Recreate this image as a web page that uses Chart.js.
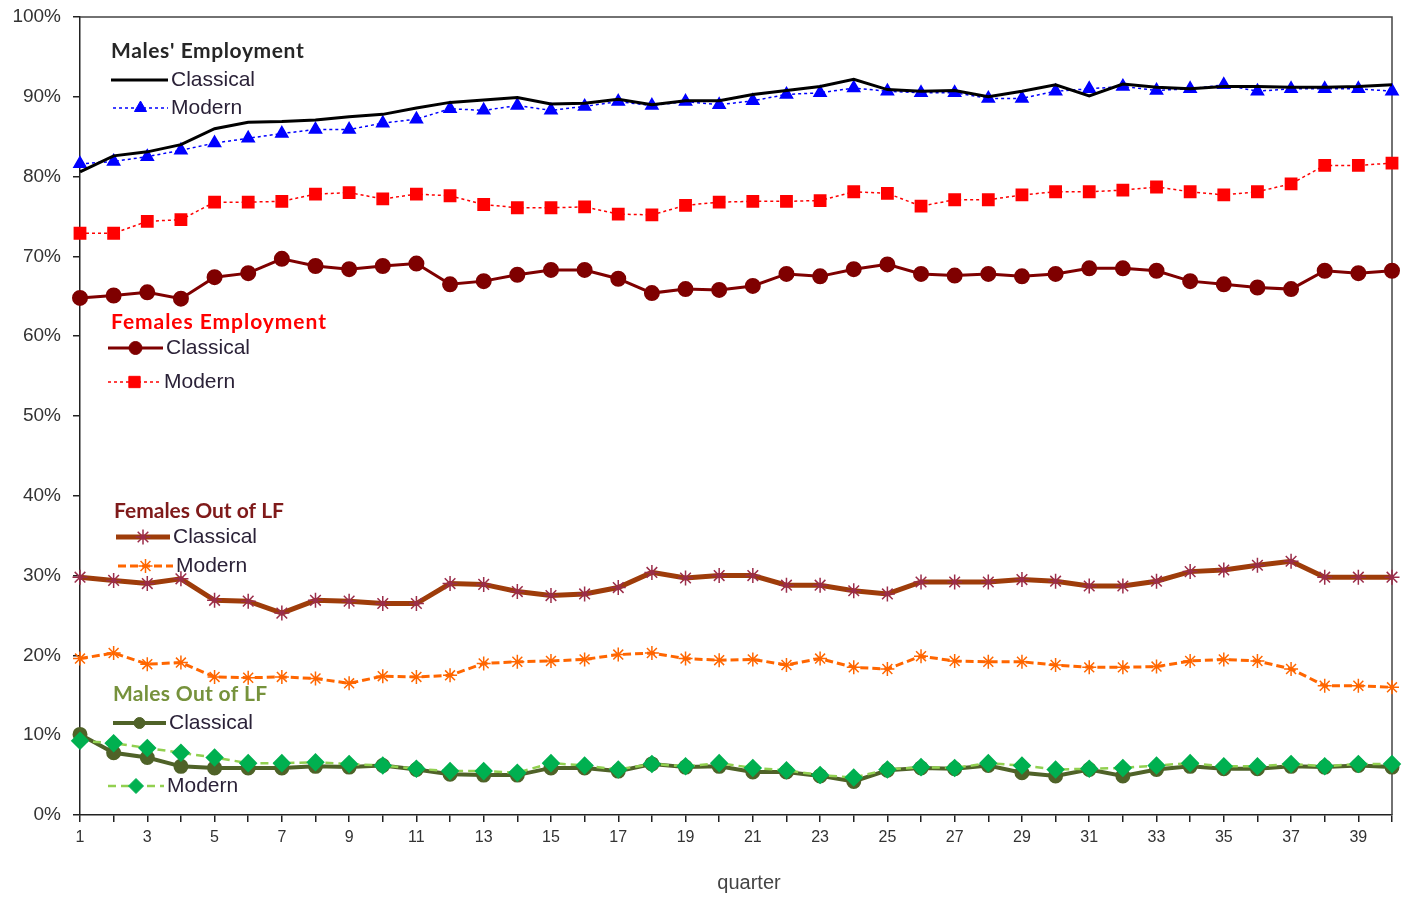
<!DOCTYPE html>
<html>
<head>
<meta charset="utf-8">
<script src="https://cdn.jsdelivr.net/npm/chart.js@4/dist/chart.umd.min.js"></script>
<style>
  html, body { margin: 0; padding: 0; background: #fff; }
  #wrap { width: 1405px; height: 900px; }
</style>
</head>
<body>
<div id="wrap"><canvas id="chart" width="1405" height="900"></canvas></div>
<script>
// quarters 1..40
const quarters = Array.from({ length: 40 }, (_, i) => String(i + 1));

const malesEmpClassical = [80.6, 82.6, 83.1, 84.0, 86.0, 86.8, 86.9, 87.1, 87.5, 87.8, 88.6, 89.3, 89.6, 89.9, 89.1, 89.2, 89.7, 89.0, 89.5, 89.5,
  90.3, 90.8, 91.3, 92.2, 90.9, 90.7, 90.8, 90.0, 90.7, 91.5, 90.1, 91.6, 91.2, 91.0, 91.3, 91.3, 91.2, 91.2, 91.3, 91.5];
const malesEmpModern = [81.6, 81.9, 82.5, 83.3, 84.2, 84.8, 85.4, 85.9, 85.9, 86.7, 87.2, 88.5, 88.3, 88.9, 88.3, 88.8, 89.4, 88.9, 89.4, 89.0,
  89.5, 90.3, 90.5, 91.1, 90.7, 90.5, 90.5, 89.8, 89.8, 90.7, 91.0, 91.3, 90.8, 91.0, 91.5, 90.7, 91.0, 91.0, 91.0, 90.7];
const femEmpClassical = [64.8, 65.1, 65.5, 64.7, 67.4, 67.9, 69.7, 68.8, 68.4, 68.8, 69.1, 66.5, 66.9, 67.7, 68.3, 68.3, 67.2, 65.4, 65.9, 65.8,
  66.3, 67.8, 67.5, 68.4, 69.0, 67.8, 67.6, 67.8, 67.5, 67.8, 68.5, 68.5, 68.2, 66.9, 66.5, 66.1, 65.9, 68.2, 67.9, 68.2];
const femEmpModern = [72.9, 72.9, 74.4, 74.6, 76.8, 76.8, 76.9, 77.8, 78.0, 77.2, 77.8, 77.6, 76.5, 76.1, 76.1, 76.2, 75.3, 75.2, 76.4, 76.8,
  76.9, 76.9, 77.0, 78.1, 77.9, 76.3, 77.1, 77.1, 77.7, 78.1, 78.1, 78.3, 78.7, 78.1, 77.7, 78.1, 79.1, 81.4, 81.4, 81.7];
const femOlfClassical = [29.8, 29.4, 29.0, 29.6, 26.9, 26.8, 25.3, 26.9, 26.8, 26.5, 26.5, 29.0, 28.9, 28.0, 27.5, 27.7, 28.5, 30.4, 29.7, 30.0,
  30.0, 28.8, 28.8, 28.1, 27.7, 29.2, 29.2, 29.2, 29.5, 29.3, 28.7, 28.7, 29.3, 30.5, 30.7, 31.3, 31.8, 29.8, 29.8, 29.8];
const femOlfModern = [19.6, 20.3, 18.9, 19.1, 17.3, 17.2, 17.3, 17.1, 16.5, 17.4, 17.3, 17.5, 19.0, 19.2, 19.3, 19.5, 20.1, 20.3, 19.6, 19.4,
  19.5, 18.8, 19.6, 18.5, 18.3, 19.9, 19.3, 19.2, 19.2, 18.8, 18.5, 18.5, 18.6, 19.3, 19.5, 19.3, 18.3, 16.2, 16.2, 16.0];
const malesOlfClassical = [10.1, 7.8, 7.2, 6.1, 5.9, 5.9, 5.9, 6.1, 6.0, 6.2, 5.7, 5.1, 5.0, 5.0, 5.9, 5.9, 5.5, 6.4, 6.0, 6.1,
  5.4, 5.4, 4.9, 4.2, 5.6, 5.9, 5.8, 6.2, 5.3, 4.9, 5.7, 4.9, 5.7, 6.1, 5.8, 5.8, 6.1, 6.0, 6.2, 6.0];
const malesOlfModern = [9.3, 9.0, 8.4, 7.8, 7.2, 6.5, 6.5, 6.6, 6.4, 6.2, 5.8, 5.5, 5.5, 5.3, 6.5, 6.2, 5.7, 6.4, 6.1, 6.5,
  5.9, 5.6, 5.0, 4.7, 5.7, 6.0, 5.9, 6.5, 6.2, 5.7, 5.8, 5.9, 6.2, 6.5, 6.1, 6.1, 6.4, 6.1, 6.4, 6.4];

const groupTitles = ["Males' Employment", 'Females Employment', 'Females Out of LF', 'Males Out of LF'];
const seriesNames = ['Classical', 'Modern'];
const xTitle = 'quarter';

const datasets = [
  { data: malesEmpClassical, borderColor: '#000000', borderWidth: 3, pointRadius: 0, order: 1 },
  { data: malesEmpModern, borderColor: '#0000FF', borderWidth: 1.5, borderDash: [3, 3],
    pointStyle: 'triangle', pointRadius: 7, pointBackgroundColor: '#0000FF', pointBorderColor: '#0000FF', order: 2 },
  { data: femEmpClassical, borderColor: '#7F0000', borderWidth: 3,
    pointStyle: 'circle', pointRadius: 6.5, pointBackgroundColor: '#7F0000', pointBorderColor: '#7F0000', order: 3 },
  { data: femEmpModern, borderColor: '#FF0000', borderWidth: 1.5, borderDash: [3, 3],
    pointStyle: 'rect', pointRadius: 8, pointBackgroundColor: '#FF0000', pointBorderColor: '#FF0000', order: 4 },
  { data: femOlfClassical, borderColor: '#9E3C0A', borderWidth: 5,
    pointStyle: 'star', pointRadius: 7.5, pointBorderWidth: 1.5, pointBorderColor: '#9B2D4A', order: 5 },
  { data: femOlfModern, borderColor: '#FF6600', borderWidth: 3, borderDash: [8, 4],
    pointStyle: 'star', pointRadius: 7, pointBorderWidth: 1.5, pointBorderColor: '#FF6600', order: 6 },
  { data: malesOlfClassical, borderColor: '#4F6228', borderWidth: 4,
    pointStyle: 'circle', pointRadius: 5.5, pointBackgroundColor: '#4F6228', pointBorderColor: '#4F6228', order: 8 },
  { data: malesOlfModern, borderColor: '#92D050', borderWidth: 2.5, borderDash: [8, 5],
    pointStyle: 'rectRot', pointRadius: 7.5, pointBackgroundColor: '#00B050', pointBorderColor: '#00B050', order: 7 }
];
datasets.forEach(d => { d.tension = 0; d.fill = false; });

// in-plot legend, drawn like the spreadsheet text boxes
const legendBoxes = [
  { title: groupTitles[0], color: '#262626', x: 111, y: 51, spacing: 0.6, items: [
    { ds: 0, x0: 111, x1: 168, y: 80 }, { ds: 1, x0: 113, x1: 168, y: 108 } ] },
  { title: groupTitles[1], color: '#FF0000', x: 111, y: 322, spacing: 0.95, items: [
    { ds: 2, x0: 108, x1: 163, y: 348 }, { ds: 3, x0: 108, x1: 161, y: 382 } ] },
  { title: groupTitles[2], color: '#7F1A1A', x: 114, y: 511, spacing: 0, items: [
    { ds: 4, x0: 116, x1: 170, y: 537 }, { ds: 5, x0: 118, x1: 173, y: 566 } ] },
  { title: groupTitles[3], color: '#76923C', x: 113, y: 694, spacing: 0.3, items: [
    { ds: 6, x0: 113, x1: 166, y: 723 }, { ds: 7, x0: 108, x1: 164, y: 786 } ] }
];

const inlineLegend = {
  id: 'inlineLegend',
  afterDatasetsDraw(chart) {
    const ctx = chart.ctx;
    ctx.save();
    legendBoxes.forEach(box => {
      ctx.font = 'bold 21px Lato, "Open Sans", sans-serif';
      ctx.fillStyle = box.color;
      ctx.textBaseline = 'middle';
      ctx.textAlign = 'left';
      ctx.letterSpacing = box.spacing + 'px';
      ctx.fillText(box.title, box.x, box.y);
      ctx.letterSpacing = '0px';
      box.items.forEach((it, k) => {
        const d = chart.data.datasets[it.ds];
        ctx.save();
        ctx.strokeStyle = d.borderColor;
        ctx.lineWidth = d.borderWidth;
        ctx.setLineDash(d.borderDash || []);
        ctx.beginPath();
        ctx.moveTo(it.x0, it.y);
        ctx.lineTo(it.x1, it.y);
        ctx.stroke();
        ctx.setLineDash([]);
        if (d.pointRadius) {
          ctx.fillStyle = d.pointBackgroundColor || d.pointBorderColor;
          ctx.strokeStyle = d.pointBorderColor;
          ctx.lineWidth = d.pointBorderWidth || 1;
          Chart.helpers.drawPoint(ctx, {
            pointStyle: d.pointStyle, radius: d.pointRadius, rotation: 0,
            borderWidth: d.pointBorderWidth || 1
          }, (it.x0 + it.x1) / 2, it.y);
        }
        ctx.restore();
        ctx.font = '21px "Liberation Sans", Arial, sans-serif';
        ctx.fillStyle = '#2B2238';
        ctx.fillText(seriesNames[k], it.x1 + 3, it.y);
      });
    });
    ctx.restore();
  }
};

// top and right frame of the plot area, plus the axis title a bit right of centre
const plotFrame = {
  id: 'plotFrame',
  beforeDatasetsDraw(chart) {
    const { ctx, chartArea: a } = chart;
    ctx.save();
    ctx.strokeStyle = '#444';
    ctx.lineWidth = 1.5;
    ctx.beginPath();
    ctx.moveTo(a.left, a.top);
    ctx.lineTo(a.right, a.top);
    ctx.lineTo(a.right, a.bottom);
    ctx.stroke();
    ctx.font = '20px "Liberation Sans", Arial, sans-serif';
    ctx.fillStyle = '#444';
    ctx.textAlign = 'center';
    ctx.textBaseline = 'middle';
    ctx.fillText(xTitle, (a.left + a.right) / 2 + 13, 883);
    ctx.restore();
  }
};

new Chart(document.getElementById('chart'), {
  type: 'line',
  data: { labels: quarters, datasets: datasets },
  options: {
    responsive: false,
    animation: false,
    layout: { padding: { left: 0, right: 13, top: 17, bottom: 0 } },
    plugins: { legend: { display: false }, tooltip: { enabled: false } },
    scales: {
      x: {
        type: 'category',
        offset: false,
        afterFit(scale) { scale.height = 85; },
        grid: { display: true, drawOnChartArea: false, drawTicks: true, tickLength: 7, color: '#222', lineWidth: 1.5 },
        border: { display: true, color: '#222', width: 1.5 },
        ticks: {
          autoSkip: false, maxRotation: 0, padding: 6,
          color: '#333', font: { family: '"Liberation Sans", Arial, sans-serif', size: 16 },
          callback(v, i) { return i % 2 === 0 ? quarters[i] : ''; }
        }
      },
      y: {
        min: 0, max: 100,
        afterFit(scale) { scale.width = 80; scale.paddingTop = 0; scale.paddingBottom = 0; },
        grid: { display: true, drawOnChartArea: false, drawTicks: true, tickLength: 7, color: '#222', lineWidth: 1.5 },
        border: { display: true, color: '#222', width: 1.5 },
        ticks: {
          stepSize: 10, padding: 12, color: '#333',
          font: { family: '"Liberation Sans", Arial, sans-serif', size: 19 },
          callback(v) { return v + '%'; }
        }
      }
    }
  },
  plugins: [plotFrame, inlineLegend]
});
</script>
</body>
</html>
